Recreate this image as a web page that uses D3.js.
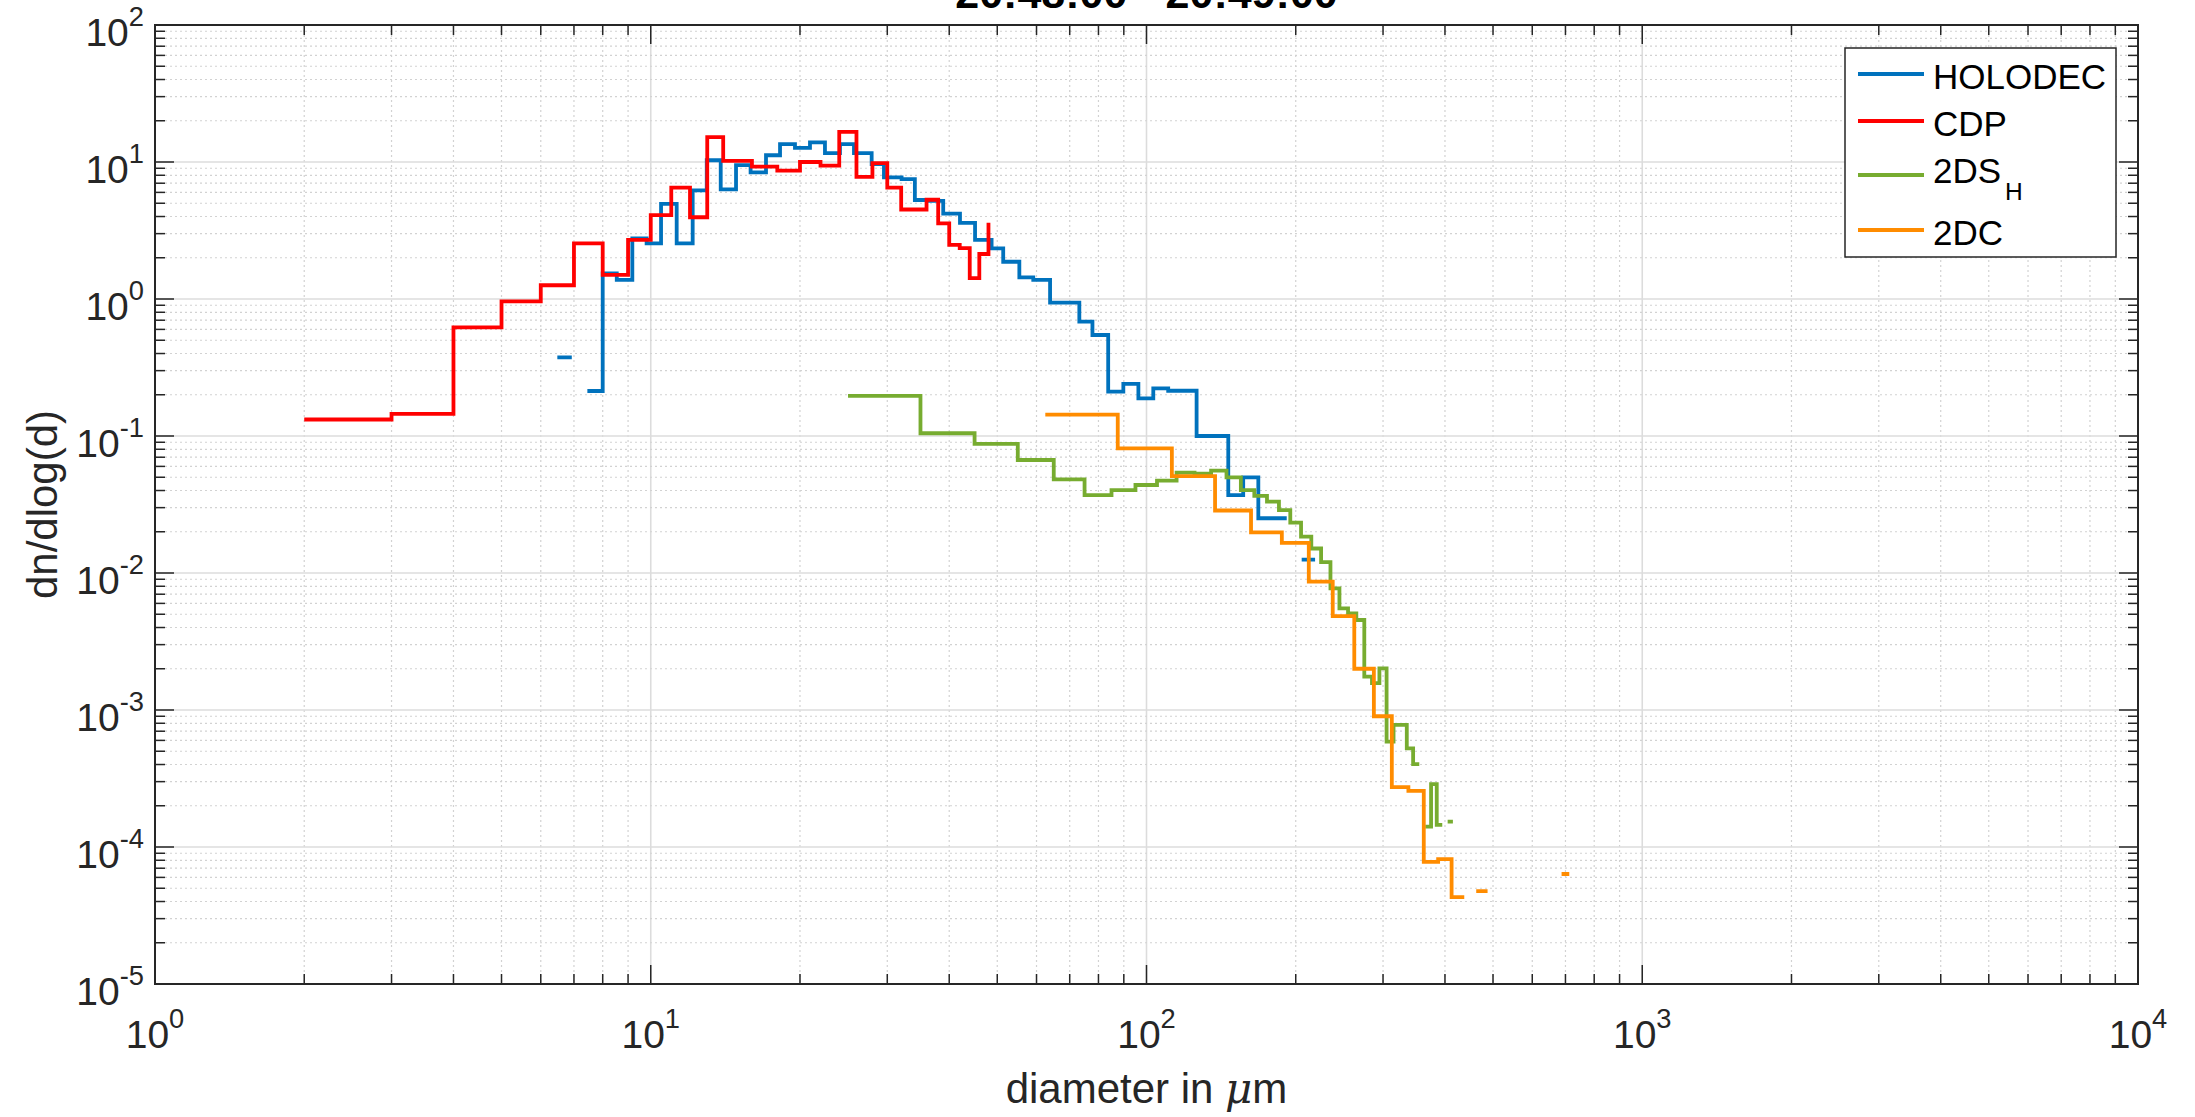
<!DOCTYPE html>
<html><head><meta charset="utf-8">
<script src="https://cdn.jsdelivr.net/npm/d3@7"></script>
<style>
body{margin:0;background:#fff}
svg{display:block}
text{font-family:"Liberation Sans",Arial,Helvetica,sans-serif;fill:#262626}
</style>
</head><body><svg id="chart" width="2195" height="1117"></svg>
<script>
// ---------------- data ----------------
const titleText = "20:48:00 - 20:49:00";
const xLabelParts = ["diameter in ", "μ", "m"];
const yLabelText = "dn/dlog(d)";
const xTickExponents = [0, 1, 2, 3, 4];
const yTickExponents = [-5, -4, -3, -2, -1, 0, 1, 2];

const legendNames = ["HOLODEC", "CDP", "2DS", "2DC"];
const legendSubs  = ["", "", "H", ""];
const seriesColors = ["#0072BD", "#FF0000", "#77AC30", "#FF8C00"];

// HOLODEC (stairs: x = step positions, y = level starting at x)
const holodecX = [6.48, 6.93, 7.45, 8.0, 8.54, 9.18, 9.81, 10.49, 11.28, 12.15, 12.97, 13.84, 14.86, 15.9, 17.08,
  18.23, 19.54, 20.95, 22.46, 24.08, 25.7, 27.9, 29.54, 32.06, 34.1, 36.3, 38.9, 42.05, 45.1, 48.7, 51.4,
  55.4, 59.1, 63.9, 68.4, 73.2, 77.8, 83.7, 89.8, 96.3, 103.2, 110.6, 118.2, 126.2, 135.9, 146.2, 156.7,
  168.1, 179.6, 191.8, 205.6, 218.8];
const holodecY = [0.375, null, 0.213, 1.54, 1.38, 2.77, 2.55, 4.94, 2.55, 6.2, 10.3, 6.32, 9.5, 8.4, 11.2,
  13.5, 12.7, 13.9, 11.6, 13.5, 11.6, 9.67, 7.73, 7.5, 5.28, 5.2, 4.2, 3.6, 2.7, 2.34, 1.87,
  1.44, 1.38, 0.94, 0.94, 0.683, 0.546, 0.211, 0.24, 0.188, 0.223, 0.214, 0.214, 0.1, 0.1, 0.037, 0.0499,
  0.0251, 0.0251, null, 0.0125, null];

// CDP
const cdpX = [2, 3, 4, 5, 6, 7, 8, 9, 10, 11, 12, 13, 14, 16, 18, 20, 22, 24, 26, 28, 30, 32, 34, 36, 38, 40, 42, 44, 46, 48];
const cdpY = [0.132, 0.145, 0.62, 0.96, 1.26, 2.55, 1.5, 2.7, 4.1, 6.5, 3.95, 15.2, 10.2, 9.24, 8.64, 10.0, 9.4,
  16.6, 7.8, 9.8, 6.5, 4.5, 4.5, 5.3, 3.57, 2.48, 2.35, 1.42, 2.13, 3.6];

// 2DS (H)
const twoDSX = [25, 35, 45, 55, 65, 75, 85, 95, 105, 115, 125, 135, 145, 155, 165, 175, 185, 195, 205, 215,
  225, 235, 245, 255, 265, 275, 285, 295, 305, 315, 325, 335, 345, 355, 365, 375, 385, 395, 405, 415];
const twoDSY = [0.196, 0.1047, 0.0875, 0.0668, 0.0483, 0.037, 0.0403, 0.0439, 0.0472, 0.054, 0.053, 0.0558,
  0.0499, 0.0403, 0.0365, 0.0332, 0.0288, 0.0233, 0.0184, 0.0151, 0.012, 0.00773, 0.00552, 0.00508, 0.00454,
  0.00175, 0.00157, 0.00201, 0.000587, 0.000778, 0.000778, 0.000525, 0.000403, null, 0.000141, 0.000288,
  0.000145, null, 0.000153, null];

// 2DC
const twoDCX = [62.5, 87.5, 112.5, 137.5, 162.5, 187.5, 212.5, 237.5, 262.5, 287.5, 312.5, 337.5, 362.5, 387.5,
  412.5, 437.5, 462.5, 487.5, 512.5, 537.5, 562.5, 587.5, 612.5, 637.5, 662.5, 687.5, 712.5];
const twoDCY = [0.143, 0.0813, 0.051, 0.0286, 0.0198, 0.0166, 0.00865, 0.00485, 0.002, 0.0009, 0.000274,
  0.000257, 0.000078, 0.0000817, 0.000043, null, 0.0000477, null, null, null, null, null, null, null, null,
  0.0000635, null];

const seriesX = [holodecX, cdpX, twoDSX, twoDCX];
const seriesY = [holodecY, cdpY, twoDSY, twoDCY];

// ---------------- layout ----------------
const W = 2195, H = 1117;
const L = 155, R = 2138, T = 25, B = 984;
const tickFont = 39, labelFont = 42, legendFont = 35, titleFont = 43;

const svg = d3.select("#chart");
svg.append("rect").attr("width", W).attr("height", H).attr("fill", "#fff");

const x = d3.scaleLog().domain([1, 1e4]).range([L, R]);
const y = d3.scaleLog().domain([1e-5, 1e2]).range([B, T]);

const isMajor = v => Math.abs(Math.log10(v) - Math.round(Math.log10(v))) < 1e-9;
const xt = x.ticks();
const yt = y.ticks();

// grid
const grid = svg.append("g");
xt.forEach(v => {
  const px = x(v);
  if (px <= L + 0.5 || px >= R - 0.5) return;
  grid.append("line").attr("x1", px).attr("x2", px).attr("y1", T).attr("y2", B)
    .attr("stroke", isMajor(v) ? "#dcdcdc" : "#d2d2d2")
    .attr("stroke-width", isMajor(v) ? 1.6 : 1.2)
    .attr("stroke-dasharray", isMajor(v) ? null : "2,3");
});
yt.forEach(v => {
  const py = y(v);
  if (py <= T + 0.5 || py >= B - 0.5) return;
  grid.append("line").attr("x1", L).attr("x2", R).attr("y1", py).attr("y2", py)
    .attr("stroke", isMajor(v) ? "#dcdcdc" : "#d2d2d2")
    .attr("stroke-width", isMajor(v) ? 1.6 : 1.2)
    .attr("stroke-dasharray", isMajor(v) ? null : "2,3");
});

// data
svg.append("clipPath").attr("id", "clip").append("rect")
  .attr("x", L).attr("y", T).attr("width", R - L).attr("height", B - T);
const line = d3.line().defined(p => p[1] != null).x(p => x(p[0])).y(p => y(p[1]));
function stairs(xs, ys) {
  const pts = [];
  for (let i = 0; i < xs.length; i++) {
    pts.push([xs[i], ys[i]]);
    if (i < xs.length - 1) pts.push([xs[i + 1], ys[i]]);
  }
  return pts;
}
const dataG = svg.append("g").attr("clip-path", "url(#clip)");
seriesX.forEach((xs, i) => {
  dataG.append("path").attr("d", line(stairs(xs, seriesY[i])))
    .attr("fill", "none").attr("stroke", seriesColors[i]).attr("stroke-width", 3.8)
    .attr("stroke-linejoin", "miter").attr("stroke-linecap", "butt");
});

// ticks (inward, all four sides)
const axG = svg.append("g").attr("stroke", "#262626").attr("stroke-width", 1.5);
xt.forEach(v => {
  const px = x(v), len = isMajor(v) ? 19 : 10;
  axG.append("line").attr("x1", px).attr("x2", px).attr("y1", B).attr("y2", B - len);
  axG.append("line").attr("x1", px).attr("x2", px).attr("y1", T).attr("y2", T + len);
});
yt.forEach(v => {
  const py = y(v), len = isMajor(v) ? 19 : 10;
  axG.append("line").attr("x1", L).attr("x2", L + len).attr("y1", py).attr("y2", py);
  axG.append("line").attr("x1", R).attr("x2", R - len).attr("y1", py).attr("y2", py);
});
svg.append("rect").attr("x", L).attr("y", T).attr("width", R - L).attr("height", B - T)
  .attr("fill", "none").attr("stroke", "#262626").attr("stroke-width", 2);

// tick labels
xTickExponents.forEach(e => {
  const t = svg.append("text").attr("x", x(Math.pow(10, e))).attr("y", B + 64)
    .attr("text-anchor", "middle").attr("font-size", tickFont);
  t.append("tspan").text("10");
  t.append("tspan").attr("dy", -20).attr("font-size", tickFont * 0.7).text(String(e));
});
yTickExponents.forEach(e => {
  const t = svg.append("text").attr("x", L - 11).attr("y", y(Math.pow(10, e)) + 21)
    .attr("text-anchor", "end").attr("font-size", tickFont);
  t.append("tspan").text("10");
  t.append("tspan").attr("dy", -20).attr("font-size", tickFont * 0.7).text(String(e));
});

// axis labels
const xl = svg.append("text").attr("x", (L + R) / 2).attr("y", 1103)
  .attr("text-anchor", "middle").attr("font-size", labelFont);
xl.append("tspan").text(xLabelParts[0]);
xl.append("tspan").attr("font-style", "italic").attr("font-family", "DejaVu Serif, serif").text(xLabelParts[1]);
xl.append("tspan").text(xLabelParts[2]);

svg.append("text").attr("transform", `translate(57,${(T + B) / 2}) rotate(-90)`)
  .attr("text-anchor", "middle").attr("font-size", labelFont).text(yLabelText);

// title
svg.append("text").attr("x", (L + R) / 2).attr("y", 8).attr("text-anchor", "middle")
  .attr("font-size", titleFont).attr("font-weight", "bold").style("fill", "#000").text(titleText);

// legend
const lg = svg.append("g");
lg.append("rect").attr("x", 1845).attr("y", 48).attr("width", 271).attr("height", 209)
  .attr("fill", "#fff").attr("stroke", "#262626").attr("stroke-width", 1.5);
const rowY = [74, 121, 175, 230];
legendNames.forEach((n, i) => {
  lg.append("line").attr("x1", 1858).attr("x2", 1924).attr("y1", rowY[i]).attr("y2", rowY[i])
    .attr("stroke", seriesColors[i]).attr("stroke-width", 3.8);
  const sub = legendSubs[i];
  const t = lg.append("text").attr("x", 1933).attr("y", rowY[i] + (sub ? 8 : 15))
    .attr("font-size", legendFont).style("fill", "#000");
  t.append("tspan").text(n);
  if (sub) t.append("tspan").attr("dx", 4).attr("dy", 17).attr("font-size", legendFont * 0.7).text(sub);
});
</script>
</body></html>
